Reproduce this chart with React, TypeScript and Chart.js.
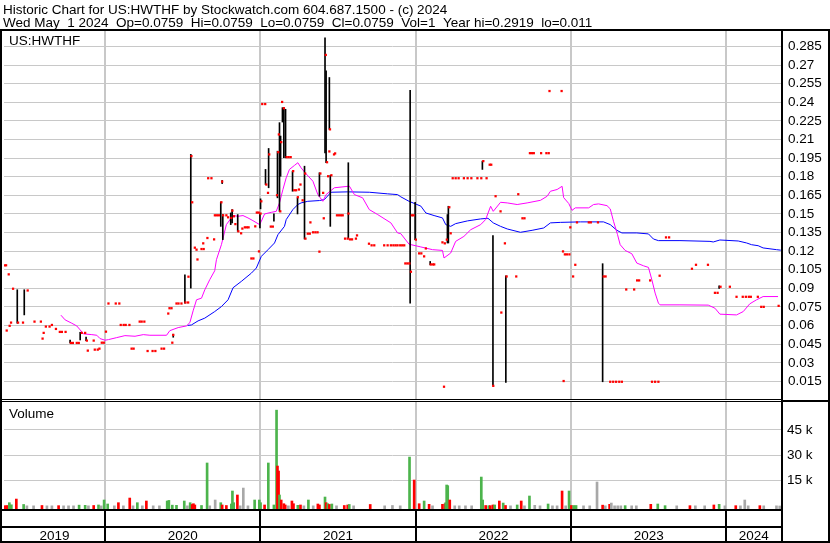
import { useEffect, useRef } from 'react';
import { Chart, registerables } from 'chart.js';

Chart.register(...registerables);

// ---------- texts ----------
const TITLE_LINE_1 = 'Historic Chart for US:HWTHF by Stockwatch.com 604.687.1500 - (c) 2024';
const TITLE_LINE_2 = 'Wed May  1 2024  Op=0.0759  Hi=0.0759  Lo=0.0759  Cl=0.0759  Vol=1  Year hi=0.2919  lo=0.011';
const SYMBOL = 'US:HWTHF';
const VOLUME_LABEL = 'Volume';

// ---------- axes ----------
const YEARS = [2019, 2020, 2021, 2022, 2023, 2024];
const X_MIN = 2019.3496;
const X_MAX = 2024.3512;
const PRICE_TICKS = [0.015, 0.03, 0.045, 0.06, 0.075, 0.09, 0.105, 0.12, 0.135, 0.15, 0.165, 0.18, 0.195, 0.21, 0.225, 0.24, 0.255, 0.27, 0.285];
const PRICE_MIN = 0;
const PRICE_MAX = 0.2975;
const VOLUME_TICKS = [15000, 30000, 45000];
const VOLUME_MIN = -2362;
const VOLUME_MAX = 62600;

// ---------- data: [decimal year, close] ----------
const CLOSES: [number, number][] = [
  [2019.352, 0.1086], [2019.363, 0.1086], [2019.367, 0.056], [2019.380, 0.1013], [2019.386, 0.0598], [2019.395, 0.0624],
  [2019.408, 0.0897], [2019.440, 0.0624], [2019.472, 0.0624], [2019.502, 0.0883], [2019.546, 0.0632], [2019.587, 0.0632],
  [2019.598, 0.0495], [2019.605, 0.0541], [2019.619, 0.0592], [2019.643, 0.0592], [2019.658, 0.0605], [2019.684, 0.0573],
  [2019.709, 0.0549], [2019.722, 0.0549], [2019.746, 0.0549], [2019.780, 0.046], [2019.793, 0.046], [2019.818, 0.046],
  [2019.831, 0.046], [2019.850, 0.0541], [2019.872, 0.0541], [2019.883, 0.0479], [2019.889, 0.0398], [2019.927, 0.0479],
  [2019.934, 0.0406], [2019.953, 0.0406], [2019.964, 0.0414], [2019.979, 0.0462], [2019.992, 0.0462], [2020.006, 0.0551],
  [2020.022, 0.0778], [2020.069, 0.0778], [2020.092, 0.0778], [2020.101, 0.0605], [2020.120, 0.0605], [2020.133, 0.0605],
  [2020.157, 0.0605], [2020.171, 0.0414], [2020.184, 0.0414], [2020.223, 0.0632], [2020.236, 0.0632], [2020.253, 0.0632],
  [2020.274, 0.0395], [2020.306, 0.0395], [2020.324, 0.0395], [2020.364, 0.0414], [2020.380, 0.0414], [2020.407, 0.0697],
  [2020.415, 0.074], [2020.428, 0.074], [2020.433, 0.0462], [2020.439, 0.0525], [2020.460, 0.0778], [2020.473, 0.0778],
  [2020.492, 0.0778], [2020.518, 0.0786], [2020.535, 0.0786], [2020.537, 0.0994], [2020.556, 0.1966], [2020.561, 0.1594],
  [2020.578, 0.1228], [2020.589, 0.1212], [2020.595, 0.1133], [2020.621, 0.1217], [2020.632, 0.1263], [2020.635, 0.1217],
  [2020.659, 0.1306], [2020.664, 0.1788], [2020.685, 0.1788], [2020.702, 0.1295], [2020.707, 0.1489], [2020.720, 0.1489],
  [2020.733, 0.1489], [2020.749, 0.1594], [2020.754, 0.1761], [2020.760, 0.1489], [2020.781, 0.1489], [2020.792, 0.1473],
  [2020.813, 0.1468], [2020.820, 0.1527], [2020.830, 0.1481], [2020.839, 0.1418], [2020.858, 0.136], [2020.876, 0.1344],
  [2020.884, 0.1382], [2020.900, 0.1392], [2020.913, 0.1392], [2020.924, 0.1392], [2020.942, 0.1141], [2020.955, 0.1141],
  [2020.967, 0.14], [2020.977, 0.1511], [2020.989, 0.1511], [2020.991, 0.1198],
  [2021.001, 0.1503], [2021.006, 0.1602], [2021.012, 0.2386], [2021.031, 0.2386], [2021.038, 0.1737], [2021.049, 0.167],
  [2021.057, 0.198], [2021.067, 0.1398], [2021.080, 0.1398], [2021.107, 0.1651], [2021.115, 0.1998], [2021.119, 0.2141],
  [2021.128, 0.1521], [2021.134, 0.2079], [2021.140, 0.2403], [2021.151, 0.2352], [2021.169, 0.1958], [2021.182, 0.1958],
  [2021.195, 0.1958], [2021.211, 0.1845], [2021.218, 0.1691], [2021.230, 0.1691], [2021.241, 0.1635], [2021.248, 0.1697],
  [2021.258, 0.1737], [2021.272, 0.161], [2021.288, 0.1826], [2021.290, 0.1301], [2021.305, 0.1341], [2021.318, 0.1341],
  [2021.322, 0.1432], [2021.339, 0.1352], [2021.354, 0.1352], [2021.368, 0.1352], [2021.380, 0.1196], [2021.386, 0.1826],
  [2021.404, 0.167], [2021.408, 0.1465], [2021.421, 0.2782], [2021.429, 0.1917], [2021.436, 0.1804], [2021.444, 0.2004],
  [2021.448, 0.2182], [2021.457, 0.1812], [2021.474, 0.198], [2021.481, 0.1988], [2021.493, 0.1489], [2021.506, 0.1489],
  [2021.519, 0.1489], [2021.530, 0.1489], [2021.545, 0.1301], [2021.562, 0.1301], [2021.567, 0.1503], [2021.577, 0.1295],
  [2021.590, 0.1295], [2021.615, 0.1301], [2021.622, 0.1327], [2021.699, 0.126], [2021.716, 0.1247], [2021.733, 0.1247],
  [2021.797, 0.1247], [2021.819, 0.1247], [2021.840, 0.1247], [2021.856, 0.1247], [2021.870, 0.1247], [2021.883, 0.1247],
  [2021.900, 0.1247], [2021.913, 0.1247], [2021.926, 0.1247], [2021.933, 0.1101], [2021.946, 0.1101], [2021.959, 0.1101],
  [2021.969, 0.1034], [2021.975, 0.1489], [2021.986, 0.1489],
  [2022.001, 0.1293], [2022.022, 0.1182], [2022.036, 0.1182], [2022.054, 0.1158], [2022.065, 0.1222], [2022.097, 0.1093],
  [2022.110, 0.1093], [2022.119, 0.1093], [2022.172, 0.1271], [2022.182, 0.0107], [2022.187, 0.1263], [2022.200, 0.1293],
  [2022.216, 0.1554], [2022.225, 0.1344], [2022.238, 0.1788], [2022.257, 0.1788], [2022.276, 0.1788], [2022.310, 0.1788],
  [2022.334, 0.1788], [2022.358, 0.1788], [2022.397, 0.1788], [2022.422, 0.1788], [2022.435, 0.1926], [2022.456, 0.1788],
  [2022.476, 0.1897], [2022.486, 0.1897], [2022.499, 0.0114], [2022.514, 0.1643], [2022.546, 0.1521], [2022.551, 0.0705],
  [2022.574, 0.1263], [2022.585, 0.0996], [2022.647, 0.0996], [2022.660, 0.1659], [2022.687, 0.1465], [2022.700, 0.1465],
  [2022.735, 0.199], [2022.748, 0.199], [2022.760, 0.199], [2022.807, 0.199], [2022.841, 0.199], [2022.856, 0.199],
  [2022.861, 0.2491], [2022.939, 0.2491], [2022.948, 0.1198], [2022.952, 0.0153], [2022.960, 0.1174], [2022.973, 0.1174],
  [2022.989, 0.1174], [2022.995, 0.1392],
  [2023.013, 0.0996], [2023.027, 0.109], [2023.038, 0.1432], [2023.114, 0.1432], [2023.127, 0.1432], [2023.173, 0.1432],
  [2023.210, 0.0996], [2023.222, 0.0996], [2023.252, 0.0147], [2023.271, 0.0147], [2023.290, 0.0147], [2023.310, 0.0147],
  [2023.327, 0.0147], [2023.355, 0.0891], [2023.406, 0.0891], [2023.425, 0.0964], [2023.438, 0.0964], [2023.509, 0.0964],
  [2023.521, 0.0147], [2023.541, 0.0147], [2023.562, 0.0147], [2023.570, 0.1002], [2023.611, 0.1311], [2023.631, 0.1311],
  [2023.778, 0.1058], [2023.804, 0.109], [2023.881, 0.109], [2023.926, 0.0864], [2023.943, 0.0864], [2023.962, 0.0913],
  [2024.022, 0.0913], [2024.065, 0.0832], [2024.105, 0.0832], [2024.125, 0.0832], [2024.144, 0.0832], [2024.157, 0.0832],
  [2024.202, 0.0832], [2024.224, 0.0751], [2024.240, 0.0751], [2024.336, 0.0759],
];

// ---------- data: [decimal year, low, high] ----------
const HIGH_LOW: [number, number, number][] = [
  [2019.435, 0.0619, 0.0889], [2019.480, 0.0686, 0.0889], [2019.775, 0.046, 0.0484], [2019.840, 0.0484, 0.0546],
  [2019.878, 0.0479, 0.0508], [2020.439, 0.0506, 0.053], [2020.514, 0.0781, 0.101], [2020.552, 0.0902, 0.198],
  [2020.745, 0.14, 0.1597], [2020.754, 0.1745, 0.177], [2020.758, 0.1293, 0.1495], [2020.809, 0.1414, 0.1508],
  [2020.818, 0.1428, 0.1535], [2020.854, 0.136, 0.1495], [2020.997, 0.1387, 0.1503], [2021.001, 0.1541, 0.1622],
  [2021.033, 0.1737, 0.1859], [2021.053, 0.1711, 0.2028], [2021.087, 0.1441, 0.15], [2021.110, 0.163, 0.2006],
  [2021.123, 0.1521, 0.2236], [2021.130, 0.1804, 0.2128], [2021.142, 0.2241, 0.2357], [2021.151, 0.1953, 0.2357],
  [2021.162, 0.1953, 0.2344], [2021.207, 0.1683, 0.1845], [2021.239, 0.15, 0.163], [2021.284, 0.1298, 0.1885],
  [2021.380, 0.1643, 0.1832], [2021.416, 0.1993, 0.2919], [2021.423, 0.1913, 0.2653], [2021.444, 0.2182, 0.26],
  [2021.450, 0.14, 0.1812], [2021.566, 0.1306, 0.1913], [2021.964, 0.0781, 0.2497], [2021.996, 0.1293, 0.1594],
  [2022.093, 0.109, 0.1117], [2022.204, 0.1266, 0.1495], [2022.210, 0.1266, 0.1562], [2022.429, 0.1859, 0.1926],
  [2022.497, 0.012, 0.1325], [2022.580, 0.0142, 0.1002], [2023.203, 0.0147, 0.1099], [2023.953, 0.0899, 0.0921],
];

// ---------- data: moving averages [decimal year, value] ----------
const MA_SHORT: [number, number][] = [
  [2019.716, 0.0684], [2019.743, 0.0646], [2019.786, 0.0619], [2019.818, 0.0597], [2019.840, 0.0565], [2019.861, 0.0533],
  [2019.915, 0.0527], [2019.947, 0.0522], [2019.968, 0.0495], [2020.000, 0.0482], [2020.022, 0.0487], [2020.075, 0.0503],
  [2020.128, 0.0519], [2020.193, 0.0514], [2020.246, 0.0527], [2020.289, 0.0522], [2020.396, 0.0522], [2020.417, 0.0559],
  [2020.471, 0.0584], [2020.524, 0.0597], [2020.546, 0.0624], [2020.567, 0.0719], [2020.589, 0.0808], [2020.621, 0.0821],
  [2020.642, 0.0888], [2020.674, 0.097], [2020.706, 0.1042], [2020.717, 0.1131], [2020.749, 0.1252], [2020.781, 0.1414],
  [2020.824, 0.1487], [2020.856, 0.1481], [2020.888, 0.1487], [2020.920, 0.1468], [2020.952, 0.1446], [2020.995, 0.1414],
  [2021.006, 0.1441], [2021.027, 0.15], [2021.070, 0.1513], [2021.102, 0.1521], [2021.123, 0.1589], [2021.145, 0.1697],
  [2021.166, 0.1791], [2021.187, 0.1859], [2021.219, 0.1891], [2021.241, 0.1913], [2021.262, 0.1872], [2021.288, 0.1832],
  [2021.338, 0.1764], [2021.370, 0.1656], [2021.402, 0.1602], [2021.423, 0.1656], [2021.476, 0.1711], [2021.573, 0.1724],
  [2021.605, 0.1656], [2021.658, 0.163], [2021.701, 0.1535], [2021.755, 0.1495], [2021.840, 0.1428], [2021.883, 0.1347],
  [2021.904, 0.1341], [2021.957, 0.1256], [2022.033, 0.1234], [2022.108, 0.1212], [2022.172, 0.1206], [2022.182, 0.1145],
  [2022.225, 0.1185], [2022.257, 0.1279], [2022.310, 0.1319], [2022.354, 0.1373], [2022.418, 0.1414], [2022.450, 0.1455],
  [2022.482, 0.1562], [2022.499, 0.1521], [2022.546, 0.1594], [2022.589, 0.1589], [2022.653, 0.1576], [2022.717, 0.1589],
  [2022.803, 0.161], [2022.846, 0.1643], [2022.867, 0.1683], [2022.910, 0.1697], [2022.942, 0.1723], [2022.952, 0.1632],
  [2022.985, 0.1584], [2023.006, 0.1529], [2023.027, 0.1549], [2023.113, 0.1549], [2023.145, 0.1576], [2023.177, 0.1581],
  [2023.231, 0.1567], [2023.252, 0.1541], [2023.273, 0.1441], [2023.299, 0.1333], [2023.316, 0.1252], [2023.348, 0.1206],
  [2023.391, 0.1179], [2023.423, 0.1104], [2023.466, 0.1082], [2023.498, 0.1069], [2023.520, 0.0969], [2023.541, 0.0862],
  [2023.562, 0.0781], [2023.573, 0.0767], [2023.701, 0.0767], [2023.883, 0.0765], [2023.926, 0.074], [2023.958, 0.0692],
  [2024.065, 0.0686], [2024.108, 0.0713], [2024.150, 0.0775], [2024.194, 0.0808], [2024.236, 0.0834], [2024.332, 0.0834],
];

const MA_LONG: [number, number][] = [
  [2020.531, 0.0601], [2020.556, 0.0605], [2020.599, 0.0638], [2020.642, 0.066], [2020.706, 0.0713], [2020.749, 0.0753],
  [2020.792, 0.0808], [2020.824, 0.0905], [2020.877, 0.0956], [2020.942, 0.1023], [2020.974, 0.1064], [2021.006, 0.1158],
  [2021.049, 0.1212], [2021.091, 0.1266], [2021.113, 0.1333], [2021.155, 0.14], [2021.166, 0.1454], [2021.209, 0.1535],
  [2021.241, 0.1576], [2021.262, 0.1589], [2021.305, 0.1602], [2021.380, 0.1608], [2021.412, 0.1616], [2021.455, 0.1675],
  [2021.562, 0.1678], [2021.701, 0.1675], [2021.819, 0.1662], [2021.883, 0.1656], [2021.904, 0.1638], [2021.957, 0.1602],
  [2022.033, 0.1563], [2022.065, 0.1508], [2022.118, 0.1487], [2022.172, 0.1468], [2022.193, 0.1414], [2022.225, 0.14],
  [2022.257, 0.1422], [2022.333, 0.1444], [2022.418, 0.146], [2022.465, 0.1465], [2022.499, 0.1428], [2022.546, 0.14],
  [2022.589, 0.1379], [2022.674, 0.1352], [2022.749, 0.1368], [2022.824, 0.1387], [2022.867, 0.1428], [2022.931, 0.1432],
  [2023.060, 0.1436], [2023.209, 0.1436], [2023.252, 0.1414], [2023.295, 0.1368], [2023.327, 0.1347], [2023.423, 0.1347],
  [2023.498, 0.1339], [2023.530, 0.1298], [2023.562, 0.1285], [2023.701, 0.1285], [2023.894, 0.1279], [2023.915, 0.1274],
  [2023.958, 0.129], [2024.076, 0.1282], [2024.130, 0.1266], [2024.162, 0.1252], [2024.204, 0.1244], [2024.236, 0.1226],
  [2024.322, 0.1212], [2024.350, 0.1208],
];

// ---------- data: volume [decimal year, shares, 'g' up | 'r' down | 'n' unchanged] ----------
const VOLUME: [number, number, string][] = [
  [2019.354, 200, 'r'], [2019.369, 300, 'r'], [2019.384, 1950, 'g'], [2019.397, 700, 'g'], [2019.429, 4100, 'r'],
  [2019.476, 900, 'g'], [2019.497, 100, 'n'], [2019.540, 100, 'n'], [2019.594, 300, 'r'], [2019.626, 100, 'n'],
  [2019.658, 100, 'n'], [2019.701, 200, 'r'], [2019.733, 100, 'n'], [2019.765, 100, 'n'], [2019.797, 100, 'n'],
  [2019.833, 500, 'g'], [2019.872, 400, 'g'], [2019.893, 100, 'n'], [2019.927, 300, 'r'], [2019.958, 600, 'g'],
  [2019.975, 100, 'n'], [2019.994, 3540, 'g'],
  [2020.017, 1180, 'g'], [2020.060, 100, 'n'], [2020.086, 1950, 'r'], [2020.118, 100, 'n'], [2020.159, 4700, 'r'],
  [2020.180, 100, 'n'], [2020.208, 1950, 'g'], [2020.240, 100, 'n'], [2020.266, 2950, 'r'], [2020.310, 100, 'n'],
  [2020.350, 100, 'n'], [2020.400, 2950, 'g'], [2020.411, 3300, 'g'], [2020.433, 500, 'g'], [2020.460, 400, 'g'],
  [2020.510, 2950, 'g'], [2020.530, 100, 'n'], [2020.548, 1950, 'g'], [2020.561, 900, 'r'], [2020.569, 1350, 'r'],
  [2020.578, 600, 'r'], [2020.621, 300, 'g'], [2020.657, 25400, 'g'], [2020.674, 100, 'n'], [2020.709, 3540, 'n'],
  [2020.745, 1950, 'g'], [2020.754, 600, 'r'], [2020.781, 300, 'r'], [2020.813, 1180, 'g'], [2020.820, 8850, 'g'],
  [2020.828, 1950, 'g'], [2020.852, 6500, 'r'], [2020.870, 100, 'n'], [2020.890, 10600, 'n'], [2020.920, 100, 'n'],
  [2020.963, 3540, 'g'], [2020.993, 3540, 'g'],
  [2021.001, 1950, 'g'], [2021.027, 600, 'r'], [2021.051, 25400, 'g'], [2021.087, 600, 'g'], [2021.104, 56600, 'g'],
  [2021.110, 23600, 'r'], [2021.117, 20650, 'r'], [2021.123, 6500, 'g'], [2021.134, 3540, 'r'], [2021.151, 1350, 'r'],
  [2021.160, 600, 'r'], [2021.180, 100, 'n'], [2021.203, 2950, 'r'], [2021.213, 1350, 'r'], [2021.241, 400, 'g'],
  [2021.258, 600, 'r'], [2021.280, 100, 'n'], [2021.309, 3540, 'g'], [2021.340, 100, 'n'], [2021.370, 1180, 'r'],
  [2021.380, 600, 'r'], [2021.416, 5300, 'g'], [2021.423, 1950, 'r'], [2021.434, 1350, 'g'], [2021.444, 900, 'r'],
  [2021.460, 1180, 'g'], [2021.490, 100, 'n'], [2021.540, 300, 'r'], [2021.562, 600, 'r'], [2021.572, 900, 'g'],
  [2021.600, 100, 'n'], [2021.707, 900, 'r'], [2021.800, 100, 'n'], [2021.850, 300, 'n'], [2021.900, 100, 'n'],
  [2021.960, 28900, 'g'], [2021.990, 15340, 'r'],
  [2022.022, 1350, 'r'], [2022.054, 2950, 'g'], [2022.086, 1000, 'r'], [2022.108, 100, 'n'], [2022.172, 1000, 'r'],
  [2022.189, 1350, 'r'], [2022.193, 1950, 'g'], [2022.199, 12400, 'g'], [2022.206, 12000, 'g'], [2022.219, 3540, 'r'],
  [2022.251, 100, 'n'], [2022.280, 100, 'n'], [2022.320, 100, 'n'], [2022.360, 100, 'n'], [2022.422, 17100, 'g'],
  [2022.431, 3540, 'g'], [2022.450, 300, 'r'], [2022.470, 200, 'g'], [2022.480, 200, 'r'], [2022.497, 600, 'r'],
  [2022.508, 600, 'g'], [2022.538, 2950, 'r'], [2022.563, 1750, 'g'], [2022.578, 300, 'r'], [2022.610, 100, 'n'],
  [2022.653, 600, 'g'], [2022.679, 2950, 'r'], [2022.700, 100, 'n'], [2022.732, 5900, 'g'], [2022.766, 400, 'n'],
  [2022.800, 100, 'n'], [2022.852, 1180, 'g'], [2022.880, 100, 'n'], [2022.910, 100, 'n'], [2022.942, 8850, 'r'],
  [2022.965, 100, 'n'], [2022.987, 8850, 'g'], [2023.002, 300, 'r'], [2023.017, 300, 'g'], [2023.032, 300, 'g'],
  [2023.080, 100, 'n'], [2023.120, 100, 'n'], [2023.167, 14160, 'n'], [2023.203, 500, 'r'], [2023.220, 100, 'n'],
  [2023.248, 1000, 'r'], [2023.259, 1750, 'n'], [2023.280, 100, 'n'], [2023.300, 100, 'n'], [2023.320, 100, 'n'],
  [2023.348, 200, 'g'], [2023.390, 100, 'n'], [2023.420, 100, 'n'], [2023.513, 1000, 'r'], [2023.558, 1180, 'g'],
  [2023.605, 200, 'g'], [2023.680, 100, 'n'], [2023.765, 200, 'r'], [2023.800, 100, 'n'], [2023.860, 100, 'n'],
  [2023.919, 600, 'r'], [2023.953, 1000, 'g'], [2023.990, 100, 'n'], [2024.060, 200, 'r'], [2024.090, 100, 'n'],
  [2024.118, 3540, 'n'], [2024.140, 100, 'n'], [2024.215, 200, 'r'], [2024.240, 100, 'n'], [2024.322, 100, 'n'],
  [2024.343, 1, 'n'],
];

// ---------- styles ----------
const FONT_FAMILY = '"Liberation Sans", Arial, sans-serif';
const FONT_SIZE = 13.5;
const GRID_COLOR = '#C8C8C8';
const VOLUME_COLORS: Record<string, string> = { g: '#4CB44C', r: '#FF0000', n: '#A8A8A8' };

const framePlugin = {
  id: 'stockwatchFrame',
  afterDraw(chart: any) {
    const ctx: CanvasRenderingContext2D = chart.ctx;
    const W = chart.width;
    const H = chart.height;
    const area = chart.chartArea;
    const xs = chart.scales.x;
    const ys = chart.scales.y;
    ctx.save();
    // header
    ctx.fillStyle = '#000';
    ctx.font = `${FONT_SIZE}px ${FONT_FAMILY}`;
    ctx.textAlign = 'left';
    ctx.textBaseline = 'alphabetic';
    ctx.fillText(TITLE_LINE_1, 3, 13.5);
    ctx.fillText(TITLE_LINE_2, 3, 27);
    ctx.fillText(SYMBOL, 9, area.top + 14);
    const volTop = Math.round(ys.bottom);
    ctx.fillText(VOLUME_LABEL, 9, volTop + 18);

    const R = Math.round(area.right);
    const B = Math.round(area.bottom);
    // outer frame
    ctx.fillRect(0, 29, W, 2);
    ctx.fillRect(0, 29, 2, H - 29);
    ctx.fillRect(W - 2, 29, 2, H - 29);
    ctx.fillRect(0, H - 2, W, 2);
    ctx.fillRect(R, 29, 2, H - 29);
    // price / volume separator
    ctx.fillStyle = '#fff';
    ctx.fillRect(2, volTop - 1, R - 2, 3);
    ctx.fillStyle = '#000';
    ctx.fillRect(2, volTop - 1, R - 2, 1);
    ctx.fillRect(2, volTop + 1, R - 2, 1);
    ctx.fillRect(R + 2, volTop, W - R - 4, 2);
    // date axis rows
    ctx.fillRect(0, B - 1, R + 2, 2);
    ctx.fillRect(0, B + 16, R + 2, 2);
    // year dividers and labels
    ctx.textAlign = 'center';
    for (let i = 0; i < YEARS.length; i++) {
      const y0 = YEARS[i];
      const a = Math.max(area.left, xs.getPixelForValue(y0));
      const b = Math.min(area.right, xs.getPixelForValue(y0 + 1));
      if (i > 0) ctx.fillRect(Math.round(a) - 1, B, 2, H - B - 1);
      ctx.fillText(String(y0), (a + b) / 2, B + 29.5);
    }
    ctx.restore();
  },
};

export default function App() {
  const ref = useRef<HTMLCanvasElement | null>(null);

  useEffect(() => {
    const canvas = ref.current;
    if (!canvas) return;
    const tickFont = { family: FONT_FAMILY, size: FONT_SIZE };
    const chart = new Chart(canvas, {
      type: 'scatter',
      data: {
        datasets: [
          {
            type: 'scatter',
            label: 'Close',
            data: CLOSES.map(([x, y]) => ({ x, y })),
            yAxisID: 'y',
            pointStyle: 'rect',
            pointRadius: 1.6,
            pointBorderWidth: 0,
            backgroundColor: '#FF0000',
            borderColor: '#FF0000',
          } as any,
          {
            type: 'bar',
            label: 'High-Low',
            data: HIGH_LOW.map(([x, lo, hi]) => ({ x, y: [lo, hi] })),
            yAxisID: 'y',
            backgroundColor: '#000',
            barThickness: 1,
            grouped: false,
          } as any,
          {
            type: 'line',
            label: 'MA short',
            data: MA_SHORT.map(([x, y]) => ({ x, y })),
            yAxisID: 'y',
            borderColor: '#FF00FF',
            borderWidth: 1,
            pointRadius: 0,
            tension: 0,
            fill: false,
          } as any,
          {
            type: 'line',
            label: 'MA long',
            data: MA_LONG.map(([x, y]) => ({ x, y })),
            yAxisID: 'y',
            borderColor: '#0000FF',
            borderWidth: 1,
            pointRadius: 0,
            tension: 0,
            fill: false,
          } as any,
          {
            type: 'bar',
            label: 'Volume',
            data: VOLUME.map(([x, v]) => ({ x, y: v })),
            yAxisID: 'yVol',
            backgroundColor: VOLUME.map(([, , c]) => VOLUME_COLORS[c]),
            barThickness: 2,
            grouped: false,
            base: VOLUME_MIN,
          } as any,
        ],
      },
      options: {
        responsive: false,
        maintainAspectRatio: false,
        devicePixelRatio: 1,
        animation: false,
        events: [],
        layout: { padding: { top: 31, left: 2, right: 0, bottom: 0 } },
        plugins: { legend: { display: false }, tooltip: { enabled: false } },
        scales: {
          x: {
            type: 'linear',
            position: 'bottom',
            min: X_MIN,
            max: X_MAX,
            offset: false,
            afterBuildTicks: (s: any) => {
              s.ticks = YEARS.slice(1).map((v) => ({ value: v }));
            },
            afterFit: (s: any) => {
              s.height = 33;
            },
            ticks: { display: false },
            grid: { color: GRID_COLOR, lineWidth: 2, drawTicks: false, offset: false },
            border: { display: false },
          },
          y: {
            type: 'linear',
            position: 'right',
            stack: 'panels',
            stackWeight: 369,
            min: PRICE_MIN,
            max: PRICE_MAX,
            afterBuildTicks: (s: any) => {
              s.ticks = PRICE_TICKS.map((v) => ({ value: v }));
            },
            afterFit: (s: any) => {
              s.width = 49;
            },
            ticks: {
              color: '#000',
              font: tickFont,
              padding: 7,
              autoSkip: false,
              callback: (v: any) => String(Number(Number(v).toFixed(3))),
            },
            grid: { color: GRID_COLOR, lineWidth: 1, drawTicks: false },
            border: { display: false },
          },
          yVol: {
            type: 'linear',
            position: 'right',
            stack: 'panels',
            stackWeight: 110,
            min: VOLUME_MIN,
            max: VOLUME_MAX,
            afterBuildTicks: (s: any) => {
              s.ticks = VOLUME_TICKS.map((v) => ({ value: v }));
            },
            afterFit: (s: any) => {
              s.width = 49;
            },
            ticks: {
              color: '#000',
              font: tickFont,
              padding: 6,
              autoSkip: false,
              callback: (v: any) => `${Math.round(Number(v) / 1000)} k`,
            },
            grid: { color: GRID_COLOR, lineWidth: 1, drawTicks: false },
            border: { display: false },
          },
        },
      } as any,
      plugins: [framePlugin],
    });
    return () => chart.destroy();
  }, []);

  return (
    <div style={{ position: 'fixed', left: 0, top: 0, width: 830, height: 543, background: '#fff' }}>
      <canvas ref={ref} width={830} height={543} style={{ display: 'block', width: 830, height: 543 }} />
    </div>
  );
}
